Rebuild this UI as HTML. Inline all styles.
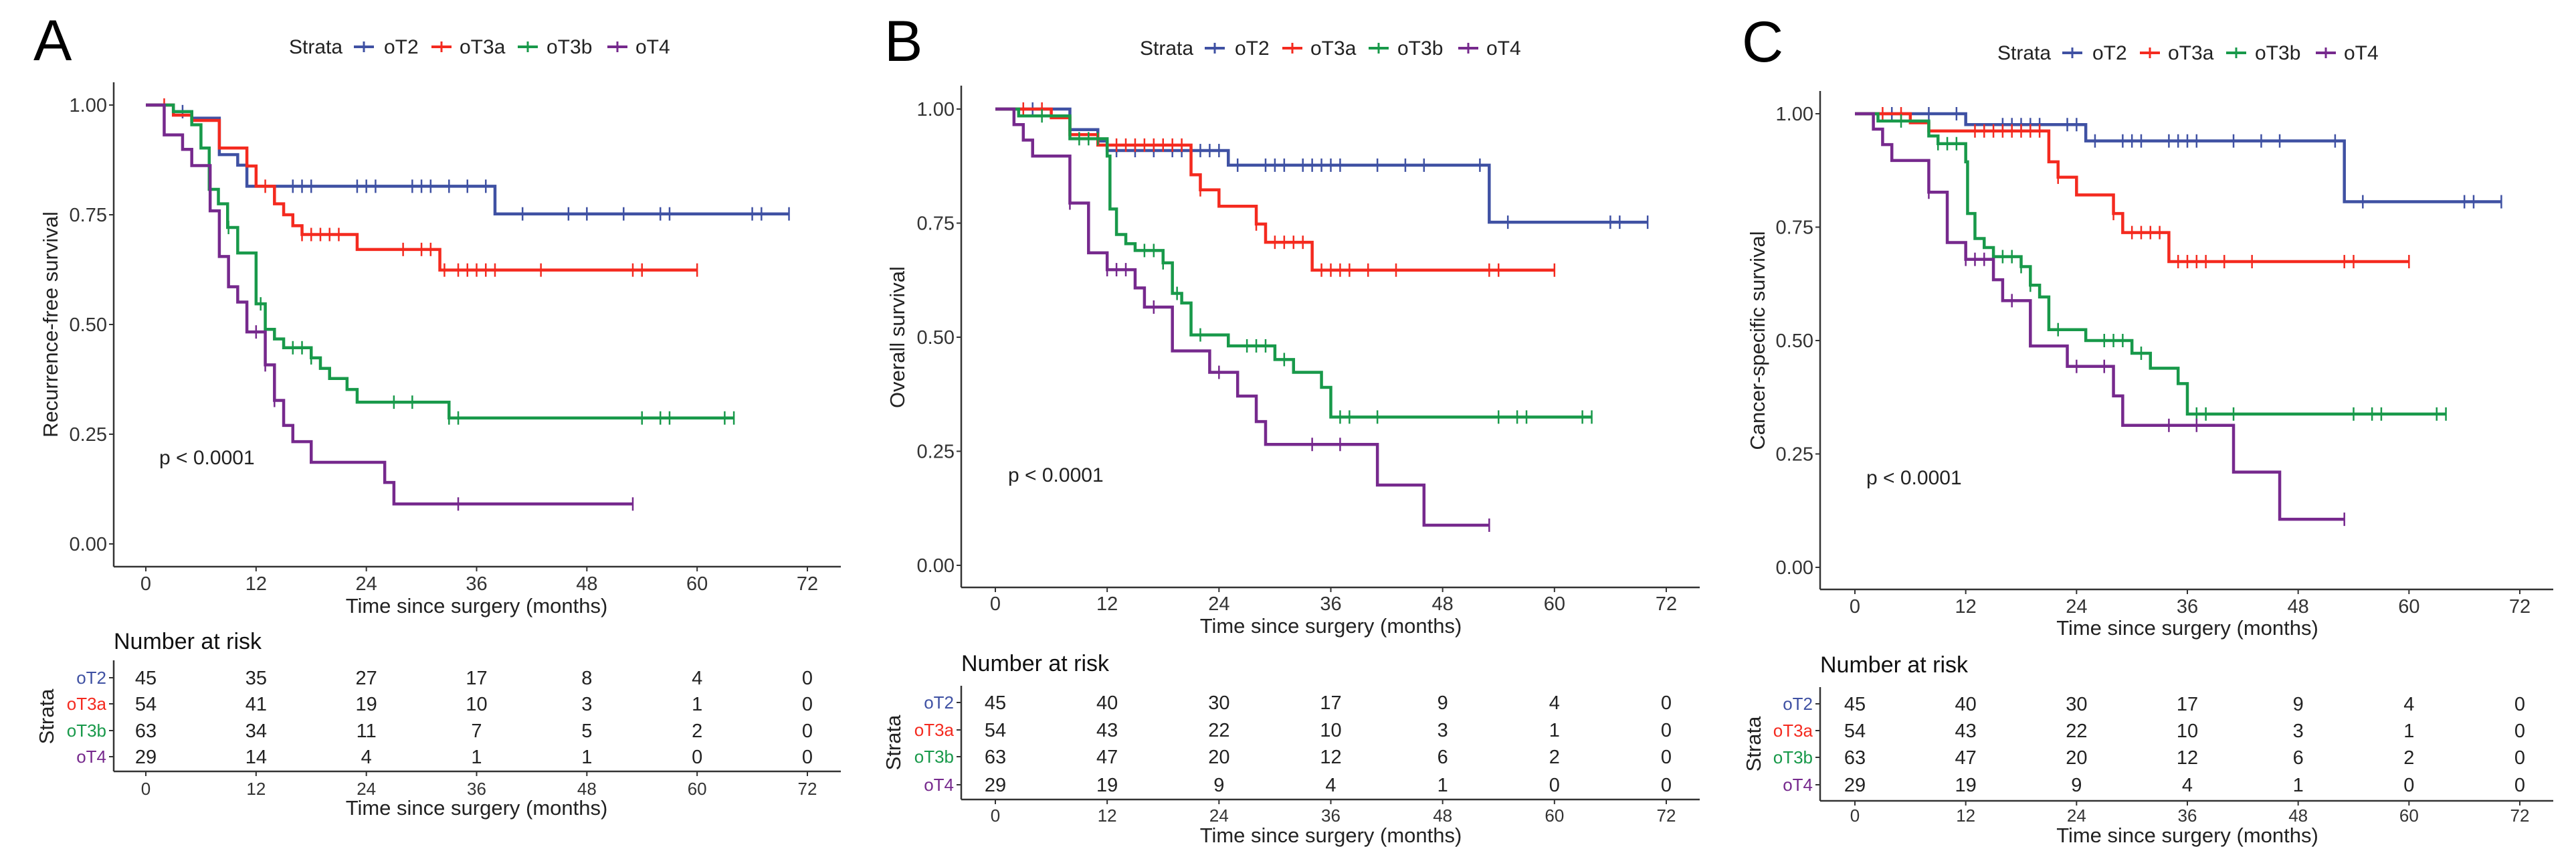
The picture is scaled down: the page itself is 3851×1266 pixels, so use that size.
<!DOCTYPE html>
<html><head><meta charset="utf-8">
<style>
html,body{margin:0;padding:0;background:#fff;}
svg{display:block;font-family:"Liberation Sans",Arial,sans-serif;}
</style></head>
<body>
<svg id="fig" width="3851" height="1266" viewBox="0 0 3851 1266" xmlns="http://www.w3.org/2000/svg"></svg>
<script>
// ---------- DATA ----------
const strata = ["oT2","oT3a","oT3b","oT4"];
const timeTicks = [0,12,24,36,48,60,72];
const survTicks = [0,0.25,0.5,0.75,1];
const survTickLabels = ["0.00","0.25","0.50","0.75","1.00"];

// Panel A: recurrence-free survival
const rfsEventTimes = [
  [3,5,8,10,11,38],
  [3,5,8,11,12,14,15,16,17,23,32],
  [3,5,6,6.9,7.9,8.9,10,12,13,14,15,18,19,20,21.9,23,33],
  [2,4,5,7,8,9,10,11,13,14,15,16,18,26,27]
];
const rfsSurvival = [
  [0.985,0.97,0.887,0.863,0.815,0.752],
  [0.977,0.965,0.902,0.861,0.815,0.775,0.75,0.725,0.705,0.671,0.624],
  [0.985,0.955,0.902,0.808,0.775,0.721,0.663,0.547,0.489,0.467,0.447,0.424,0.4,0.377,0.352,0.323,0.287],
  [0.932,0.899,0.862,0.759,0.655,0.586,0.551,0.483,0.408,0.327,0.27,0.233,0.186,0.14,0.091]
];
const rfsEnd = [70,60,64,53];
const rfsCensor = [
  [4,16,17,18,23,24,25,29,30,31,33,35,37,41,46,48,52,56,57,66,67,70],
  [2,13,17,18,19,20,21,28,30,31,32.5,34,35,36,37,38,43,53,54,60],
  [7,9,12.5,16,17,18,27,29,33,34,54,56,57,63,64],
  [12,13,14,34,53]
];
const rfsRisk = [[45,35,27,17,8,4,0],[54,41,19,10,3,1,0],[63,34,11,7,5,2,0],[29,14,4,1,1,0,0]];

// Panel B: overall survival
const osEventTimes = [
  [8,11,12,25,53],
  [6,8,11,21,22,24,28,29,34],
  [2.5,8,12,12.3,13,14,15,18,19,20,21,25,30,32,35,36],
  [2,3,4,8,10,12,15,16,19,23,26,28,29,41,46]
];
const osSurvival = [
  [0.955,0.93,0.909,0.877,0.752],
  [0.981,0.944,0.921,0.856,0.823,0.787,0.748,0.708,0.647],
  [0.985,0.935,0.897,0.781,0.725,0.705,0.69,0.663,0.596,0.575,0.505,0.481,0.451,0.423,0.39,0.325],
  [0.966,0.932,0.897,0.794,0.685,0.648,0.608,0.566,0.47,0.423,0.371,0.315,0.265,0.176,0.088]
];
const osEnd = [70,60,64,53];
const osCensor = [
  [4,13,15,17,19,20,22,23,24,26,29,30,31,33,34,35,36,37,41,44,46,52,55,66,67,70],
  [3,5,13,14,15,16,17,18,19,20,22,28,30,31,32,33,35,36,37,38,40,43,53,54,60],
  [5,9,10,11,16,17,18,19.5,22,27,28,29,31,37,38,41,54,56,57,63,64],
  [8,12,13,14,17,24,34,37,53]
];
const osRisk = [[45,40,30,17,9,4,0],[54,43,22,10,3,1,0],[63,47,20,12,6,2,0],[29,19,9,4,1,0,0]];

// Panel C: cancer-specific survival
const cssEventTimes = [
  [12,25,53],
  [6,8,21,22,24,28,29,34],
  [2.5,8,9,12,12.2,13,14,15,18,19,20,21,25,30,32,35,36],
  [2,3,4,8,10,12,15,16,19,23,28,29,41,46]
];
const cssSurvival = [
  [0.976,0.94,0.806],
  [0.98,0.962,0.894,0.86,0.821,0.78,0.738,0.674],
  [0.984,0.951,0.934,0.894,0.78,0.725,0.705,0.685,0.663,0.622,0.596,0.524,0.5,0.472,0.439,0.405,0.338],
  [0.966,0.932,0.897,0.827,0.716,0.679,0.634,0.588,0.488,0.443,0.378,0.313,0.21,0.106]
];
const cssEnd = [70,60,64,53];
const cssCensor = [
  [4,8,11,16,17,18,19,20,23,24,26,29,30,31,34,35,36,37,41,44,46,52,55,66,67,70],
  [3,5,13,14,15,16,17,18,19,20,22,28,30,31,32,33,35,36,37,38,40,43,53,54,60],
  [5,9,10,11,16,17,18,19,22,27,28,29,31,37,38,41,54,56,57,63,64],
  [8,12,13,14,17,24,27,34,37,53]
];
const cssRisk = [[45,40,30,17,9,4,0],[54,43,22,10,3,1,0],[63,47,20,12,6,2,0],[29,19,9,4,1,0,0]];

// ---------- STYLE / LAYOUT ----------
const colors = ["#3F51A3","#F42A1F","#18994A","#76298D"];
const NS = "http://www.w3.org/2000/svg";
const svg = document.getElementById("fig");
function mk(tag, attrs, parent){
  const e = document.createElementNS(NS, tag);
  for (const k in attrs) e.setAttribute(k, attrs[k]);
  (parent||svg).appendChild(e);
  return e;
}
function txt(str, attrs, parent){
  const e = mk("text", attrs, parent);
  e.textContent = str;
  return e;
}

const panels = [
  {id:"a", letter:"A", title:"Recurrence-free survival", times:rfsEventTimes, surv:rfsSurvival, ends:rfsEnd, cens:rfsCensor, risk:rfsRisk,
   ax:170, top:123, axisY:847, right:1257, x0:218, x72:1207, s1:157, s0:813, letterX:50, letterY:90,
   legX:432, legY:70, ytitleX:86, pX:238, pY:694, tickLabY:882, xtitleY:916, narY:970, rows:[1013,1052,1092,1131],
   tTop:987, tAxis:1153, tTickY:1188, tTitleY:1218, strataY:1071},
  {id:"b", letter:"B", title:"Overall survival", times:osEventTimes, surv:osSurvival, ends:osEnd, cens:osCensor, risk:osRisk,
   ax:1437, top:128, axisY:878, right:2541, x0:1488, x72:2491, s1:163, s0:845, letterX:1322, letterY:91,
   legX:1704, legY:72, ytitleX:1352, pX:1507, pY:720, tickLabY:912, xtitleY:946, narY:1003, rows:[1050,1091,1131,1173],
   tTop:1025, tAxis:1195, tTickY:1228, tTitleY:1259, strataY:1110},
  {id:"c", letter:"C", title:"Cancer-specific survival", times:cssEventTimes, surv:cssSurvival, ends:cssEnd, cens:cssCensor, risk:cssRisk,
   ax:2721, top:136, axisY:881, right:3817, x0:2773, x72:3767, s1:170, s0:848, letterX:2604, letterY:92,
   legX:2986, legY:79, ytitleX:2638, pX:2790, pY:724, tickLabY:916, xtitleY:949, narY:1005, rows:[1052,1092,1132,1173],
   tTop:1027, tAxis:1197, tTickY:1228, tTitleY:1259, strataY:1112}
];

const legOffsets = {sym:[97,213,342,476], lab:[142,255,385,518]};

panels.forEach(P => {
  const g = mk("g", {});
  
  
  const xs = t => P.x0 + (P.x72 - P.x0) * t / 72;
  const ys = s => P.s0 + (P.s1 - P.s0) * s;

  const L = txt(P.letter, {x:P.letterX, y:P.letterY, "font-size":86, fill:"#000"}, g);
  
  

  // legend
  const lg = mk("g", {}, g);
  
  
  txt("Strata", {x:P.legX, y:P.legY+10, "font-size":30, fill:"#222"}, lg);
  strata.forEach((s,i) => {
    const sx = P.legX + legOffsets.sym[i];
    const it = mk("g", {}, lg);
    
    
    mk("line", {x1:sx, x2:sx+30, y1:P.legY, y2:P.legY, stroke:colors[i], "stroke-width":4}, it);
    mk("line", {x1:sx+15, x2:sx+15, y1:P.legY-8, y2:P.legY+8, stroke:colors[i], "stroke-width":3}, it);
    txt(s, {x:P.legX + legOffsets.lab[i], y:P.legY+10, "font-size":30, fill:"#222"}, it);
  });

  // axes
  const axg = mk("g", {}, g);
  
  
  mk("line", {x1:P.ax, x2:P.ax, y1:P.top, y2:P.axisY, stroke:"#333", "stroke-width":2.5}, axg);
  mk("line", {x1:P.ax, x2:P.right, y1:P.axisY, y2:P.axisY, stroke:"#333", "stroke-width":2.5}, axg);
  survTicks.forEach((v,i) => {
    const y = ys(v);
    mk("line", {x1:P.ax-7, x2:P.ax, y1:y, y2:y, stroke:"#333", "stroke-width":2}, axg);
    const t = txt(survTickLabels[i], {x:P.ax-10, y:y+10, "font-size":29, fill:"#333", "text-anchor":"end"}, axg);
    
    
  });
  timeTicks.forEach(v => {
    const x = xs(v);
    mk("line", {x1:x, x2:x, y1:P.axisY, y2:P.axisY+7, stroke:"#333", "stroke-width":2}, axg);
    const t = txt(String(v), {x:x, y:P.tickLabY, "font-size":29, fill:"#333", "text-anchor":"middle"}, axg);
    
    
  });
  const xt = txt("Time since surgery (months)", {x:(P.x0+P.x72)/2, y:P.xtitleY, "font-size":31, fill:"#222", "text-anchor":"middle"}, g);
  
  
  const cy = (P.s0+P.s1)/2;
  const yt = txt(P.title, {x:P.ytitleX, y:cy, "font-size":31, fill:"#222", "text-anchor":"middle", transform:`rotate(-90 ${P.ytitleX} ${cy})`}, g);
  
  
  const pv = txt("p < 0.0001", {x:P.pX, y:P.pY, "font-size":30, fill:"#222"}, g);
  
  

  // curves
  strata.forEach((s,i) => {
    const cg = mk("g", {}, g);
    
    
    let d = `M${xs(0)},${ys(1)}`;
    P.times[i].forEach((t,k) => { d += ` H${xs(t)} V${ys(P.surv[i][k])}`; });
    d += ` H${xs(P.ends[i])}`;
    mk("path", {d:d, fill:"none", stroke:colors[i], "stroke-width":4.5}, cg);
    const survAt = t => { let v = 1; P.times[i].forEach((et,k) => { if (et <= t) v = P.surv[i][k]; }); return v; };
    P.cens[i].forEach(c => {
      const x = xs(c), y = ys(survAt(c));
      const m = mk("line", {x1:x, x2:x, y1:y-10, y2:y+10, stroke:colors[i], "stroke-width":2.5}, cg);
      
      
    });
  });

  // risk table
  const tg = mk("g", {}, g);
  
  
  txt("Number at risk", {x:P.ax, y:P.narY, "font-size":34, fill:"#111"}, tg);
  mk("line", {x1:P.ax, x2:P.ax, y1:P.tTop, y2:P.tAxis, stroke:"#333", "stroke-width":2.5}, tg);
  mk("line", {x1:P.ax, x2:P.right, y1:P.tAxis, y2:P.tAxis, stroke:"#333", "stroke-width":2.5}, tg);
  strata.forEach((s,i) => {
    const y = P.rows[i];
    mk("line", {x1:P.ax-7, x2:P.ax, y1:y, y2:y, stroke:"#333", "stroke-width":2}, tg);
    const rl = txt(s, {x:P.ax-11, y:y+9, "font-size":26, fill:colors[i], "text-anchor":"end"}, tg);
    
    
    P.risk[i].forEach((n,k) => {
      const c = txt(String(n), {x:xs(timeTicks[k]), y:y+10, "font-size":29, fill:"#222", "text-anchor":"middle"}, tg);
      
      
    });
  });
  timeTicks.forEach(v => {
    const x = xs(v);
    mk("line", {x1:x, x2:x, y1:P.tAxis, y2:P.tAxis+7, stroke:"#333", "stroke-width":2}, tg);
    txt(String(v), {x:x, y:P.tTickY, "font-size":26, fill:"#333", "text-anchor":"middle"}, tg);
  });
  txt("Time since surgery (months)", {x:(P.x0+P.x72)/2, y:P.tTitleY, "font-size":31, fill:"#222", "text-anchor":"middle"}, tg);
  const sx = P.ytitleX - 6;
  txt("Strata", {x:sx, y:P.strataY, "font-size":31, fill:"#222", "text-anchor":"middle", transform:`rotate(-90 ${sx} ${P.strataY})`}, tg);
});
</script>
</body></html>
